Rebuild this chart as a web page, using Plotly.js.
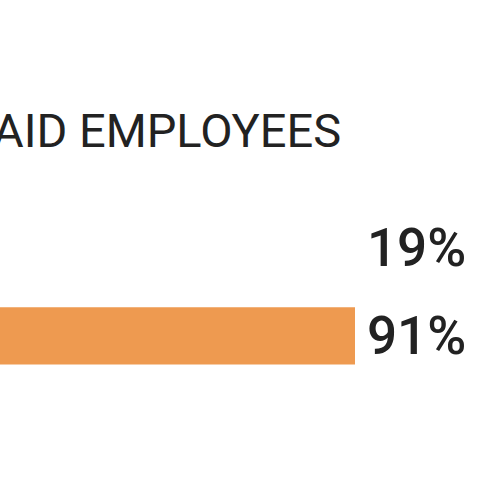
<!DOCTYPE html>
<html>
<head>
<meta charset="utf-8">
<script src="https://cdn.plot.ly/plotly-3.0.1.min.js"></script>
<style>html,body{margin:0;padding:0;background:#fff;}#chart{width:500px;height:500px;}</style>
</head>
<body>
<div id="chart"></div>
<script>
const categories = ["Group A", "Group B"];
const values = [19, 91];
const valueLabels = ["19%", "91%"];
const barColors = ["#f7fafc", "#ee9a50"];
const titleText = "AID EMPLOYEES";

const trace = {
  type: "bar",
  orientation: "h",
  y: categories,
  x: values,
  marker: {color: barColors},
  width: 0.65,
  hoverinfo: "none"
};

const labelAnnotations = categories.map((c, i) => ({
  x: 93.0, y: c, xref: "x", yref: "y",
  text: valueLabels[i],
  showarrow: false, xanchor: "left", yanchor: "middle",
  font: {family: "Roboto", size: 53, weight: 500, color: "#222222"}
}));

const layout = {
  width: 500, height: 500,
  margin: {l: 0, r: 0, t: 0, b: 0},
  paper_bgcolor: "#ffffff", plot_bgcolor: "#ffffff",
  showlegend: false,
  xaxis: {range: [20, 120], visible: false, fixedrange: true},
  yaxis: {type: "category", range: [2.864, -2.818], visible: false, fixedrange: true},
  annotations: [
    {x: -0.018, y: 0.74, xref: "paper", yref: "paper", text: titleText,
     showarrow: false, xanchor: "left", yanchor: "middle",
     font: {family: "Roboto", size: 47, color: "#222222"}}
  ].concat(labelAnnotations)
};

Plotly.newPlot("chart", [trace], layout, {staticPlot: true});
</script>
</body>
</html>
